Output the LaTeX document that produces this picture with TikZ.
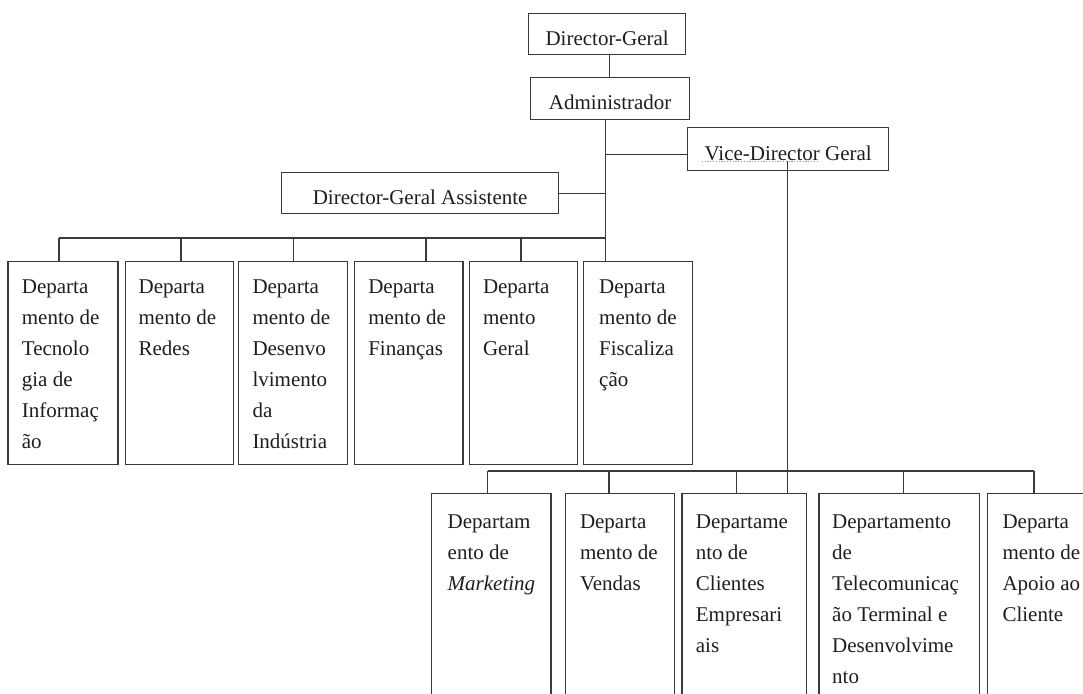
\documentclass[tikz,border=0pt]{standalone}
\usepackage{fontspec}
\setmainfont{Liberation Serif}
\definecolor{linec}{HTML}{3A3A3A}
\definecolor{textc}{HTML}{1E1E1E}
\definecolor{squig}{HTML}{9A9A9A}
\begin{document}
\begin{tikzpicture}[x=1pt,y=-1pt,
  box/.style={draw=linec, line width=1.3pt, inner sep=0pt, anchor=north west},
  lbl/.style={font=\fontsize{21}{31}\selectfont, text=textc, inner sep=0pt},
  deptlbl/.style={lbl, align=left, anchor=north west},
  conn/.style={draw=linec, line width=1.3pt},
]
\useasboundingbox (0,0) rectangle (1083,693);
\clip (0,0) rectangle (1083,693);

% management boxes
\node[box, minimum width=157pt, minimum height=41pt] (dg) at (528,13) {};
\node[lbl, anchor=base] (dgt) at ([yshift=-11pt]dg.center) {Director-Geral};
\node[box, minimum width=159pt, minimum height=42pt] (adm) at (530,77) {};
\node[lbl, anchor=base] (admt) at ([yshift=-11pt]adm.center) {Administrador};
\node[box, minimum width=201pt, minimum height=43pt] (vdg) at (687,127) {};
\node[lbl, anchor=base] (vdgt) at ([yshift=-11.5pt]vdg.center) {Vice-Director Geral};
\node[box, minimum width=277pt, minimum height=41pt] (ass) at (281,172) {};
\node[lbl, anchor=base] (asst) at ([yshift=-11.5pt]ass.center) {Director-Geral Assistente};

% spell-check underline below "Vice-Director"
\draw[squig, line width=0.9pt, dash pattern=on 1.2pt off 1.6pt] (701.7,161.5) -- (818.3,161.5);

% departments under the administrator
\node[box, minimum width=110pt, minimum height=203.5pt] (d1) at (7.3,260.5) {};
\node[deptlbl] (d1t) at ([shift={(14.4,19.5)}]d1.north west) {Departa\\mento de\\Tecnolo\\gia de\\Informaç\\ão};
\node[box, minimum width=108.5pt, minimum height=203.5pt] (d2) at (124.5,260.5) {};
\node[deptlbl] (d2t) at ([shift={(13.9,19.5)}]d2.north west) {Departa\\mento de\\Redes};
\node[box, minimum width=109pt, minimum height=203.5pt] (d3) at (237.6,260.5) {};
\node[deptlbl] (d3t) at ([shift={(14.7,19.5)}]d3.north west) {Departa\\mento de\\Desenvo\\lvimento\\da\\Indústria};
\node[box, minimum width=108.7pt, minimum height=203.5pt] (d4) at (353.5,260.5) {};
\node[deptlbl] (d4t) at ([shift={(14.6,19.5)}]d4.north west) {Departa\\mento de\\Finanças};
\node[box, minimum width=108.3pt, minimum height=203.5pt] (d5) at (468.6,260.5) {};
\node[deptlbl] (d5t) at ([shift={(14.2,19.5)}]d5.north west) {Departa\\mento\\Geral};
\node[box, minimum width=109pt, minimum height=203.5pt] (d6) at (582.7,260.5) {};
\node[deptlbl] (d6t) at ([shift={(16.3,19.5)}]d6.north west) {Departa\\mento de\\Fiscaliza\\ção};

% departments under the vice-director
\node[box, minimum width=119.6pt, minimum height=230pt] (e1) at (430.6,493) {};
\node[deptlbl] (e1t) at ([shift={(16.9,21.5)}]e1.north west) {Departam\\ento de\\\textit{Marketing}};
\node[box, minimum width=109pt, minimum height=230pt] (e2) at (564.6,493) {};
\node[deptlbl] (e2t) at ([shift={(15.2,21.5)}]e2.north west) {Departa\\mento de\\Vendas};
\node[box, minimum width=124.7pt, minimum height=230pt] (e3) at (681.3,493) {};
\node[deptlbl] (e3t) at ([shift={(14.4,21.5)}]e3.north west) {Departame\\nto de\\Clientes\\Empresari\\ais};
\node[box, minimum width=160.2pt, minimum height=230pt] (e4) at (818.3,493) {};
\node[deptlbl] (e4t) at ([shift={(13.7,21.5)}]e4.north west) {Departamento\\de\\Telecomunicaç\\ão Terminal e\\Desenvolvime\\nto};
\node[box, minimum width=130pt, minimum height=230pt] (e5) at (986.7,493) {};
\node[deptlbl] (e5t) at ([shift={(15.6,21.5)}]e5.north west) {Departa\\mento de\\Apoio ao\\Cliente};

% trunk and branch points
\coordinate (trunk) at (605.5,119);
\coordinate (vline) at (787.3,161);
\coordinate (a1) at (59,238);
\coordinate (a2) at (181,238);
\coordinate (a3) at (293.4,238);
\coordinate (a4) at (425.9,238);
\coordinate (a5) at (521.1,238);
\coordinate (c1) at (487.7,471);
\coordinate (c2) at (609,471);
\coordinate (c3) at (736.7,471);
\coordinate (c4) at (903.3,471);
\coordinate (c5) at (1034,471);

% connectors
\draw[conn] ([xshift=2pt]dg.south) -- ([xshift=2pt]dg.south |- adm.north);
\draw[conn] (trunk) -- (trunk |- d6.north);
\draw[conn] (trunk |- vdg.west) ++(0,5) -- ([yshift=-5pt]vdg.west);
\draw[conn] (ass.east) -- (ass.east -| trunk);
\draw[conn] (a1) -- (a1 -| trunk);
\foreach \p/\n in {a1/d1,a2/d2,a3/d3,a4/d4,a5/d5}
  \draw[conn] (\p) -- (\p |- \n.north);
\draw[conn] (vline) -- (vline |- e3.north);
\draw[conn] (c1) -- (c5);
\foreach \p/\n in {c1/e1,c2/e2,c3/e3,c4/e4,c5/e5}
  \draw[conn] (\p) -- (\p |- \n.north);
\end{tikzpicture}
\end{document}
